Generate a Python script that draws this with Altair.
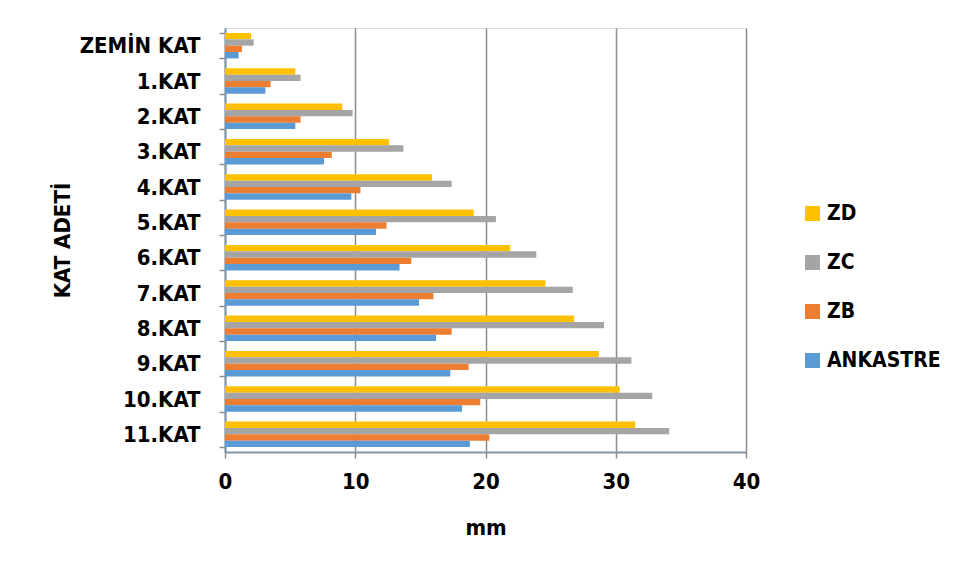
import altair as alt
import pandas as pd

categories = ["ZEMİN KAT", "1.KAT", "2.KAT", "3.KAT", "4.KAT", "5.KAT",
              "6.KAT", "7.KAT", "8.KAT", "9.KAT", "10.KAT", "11.KAT"]
series = ["ZD", "ZC", "ZB", "ANKASTRE"]
colors = ["#FFC000", "#A5A5A5", "#ED7D31", "#5B9BD5"]

zd = [2.0, 5.4, 9.0, 12.6, 15.9, 19.1, 21.9, 24.6, 26.8, 28.7, 30.3, 31.5]
zc = [2.2, 5.8, 9.8, 13.7, 17.4, 20.8, 23.9, 26.7, 29.1, 31.2, 32.8, 34.1]
zb = [1.3, 3.5, 5.8, 8.2, 10.4, 12.4, 14.3, 16.0, 17.4, 18.7, 19.6, 20.3]
ank = [1.05, 3.1, 5.4, 7.6, 9.7, 11.6, 13.4, 14.9, 16.2, 17.3, 18.2, 18.8]

rows = []
for name, vals in zip(series, [zd, zc, zb, ank]):
    for c, v in zip(categories, vals):
        rows.append({"kat": c, "seri": name, "mm": v})
df = pd.DataFrame(rows)

FONT = "DejaVu Sans Condensed, Lato"
W = "bold"
FS = 22

chart = alt.Chart(df).mark_bar().encode(
    x=alt.X("mm:Q",
            scale=alt.Scale(domain=[0, 40], nice=False),
            axis=alt.Axis(values=[0, 10, 20, 30, 40], title="mm",
                          labelFont=FONT, labelFontSize=FS, labelFontWeight=W,
                          labelColor="#000000", labelPadding=13, labelFlush=False,
                          titleFont=FONT, titleFontSize=FS, titleFontWeight=W,
                          titleColor="#000000", titleY=75, titleBaseline="middle",
                          grid=True, gridColor="#8C8C8C", gridWidth=1.5,
                          domainColor="#7F95AA", domainWidth=2,
                          tickColor="#8C8C8C", tickSize=6, tickWidth=1.5)),
    y=alt.Y("kat:N", sort=categories,
            scale=alt.Scale(paddingInner=0.28, paddingOuter=0.14),
            axis=alt.Axis(title="KAT ADETİ",
                          labelFont=FONT, labelFontSize=FS, labelFontWeight=W,
                          labelColor="#000000", labelPadding=19,
                          titleFont=FONT, titleFontSize=FS, titleFontWeight=W,
                          titleColor="#000000", titleX=-163, titleBaseline="middle",
                          grid=False, domainColor="#7F95AA", domainWidth=2,
                          tickColor="#8C8C8C", tickSize=6, tickWidth=1.5,
                          tickBand="extent")),
    yOffset=alt.YOffset("seri:N", sort=series),
    color=alt.Color("seri:N", sort=series,
                    scale=alt.Scale(domain=series, range=colors),
                    legend=alt.Legend(title=None, orient="none",
                                      legendX=577, legendY=175,
                                      symbolType="square", symbolSize=225,
                                      symbolStrokeWidth=0, symbolOpacity=1,
                                      labelFont=FONT, labelFontSize=21,
                                      labelFontWeight=W, labelColor="#000000",
                                      labelOffset=4, rowPadding=27)),
).properties(
    width=521, height=424,
    autosize=alt.AutoSizeParams(type="none"),
    padding={"left": 217, "top": 20, "right": 200, "bottom": 110},
).configure_view(
    stroke="#5B9BD5", strokeWidth=2
).configure(background="#FFFFFF")

chart.save("out.html", embed_options={"renderer": "svg", "actions": False})
